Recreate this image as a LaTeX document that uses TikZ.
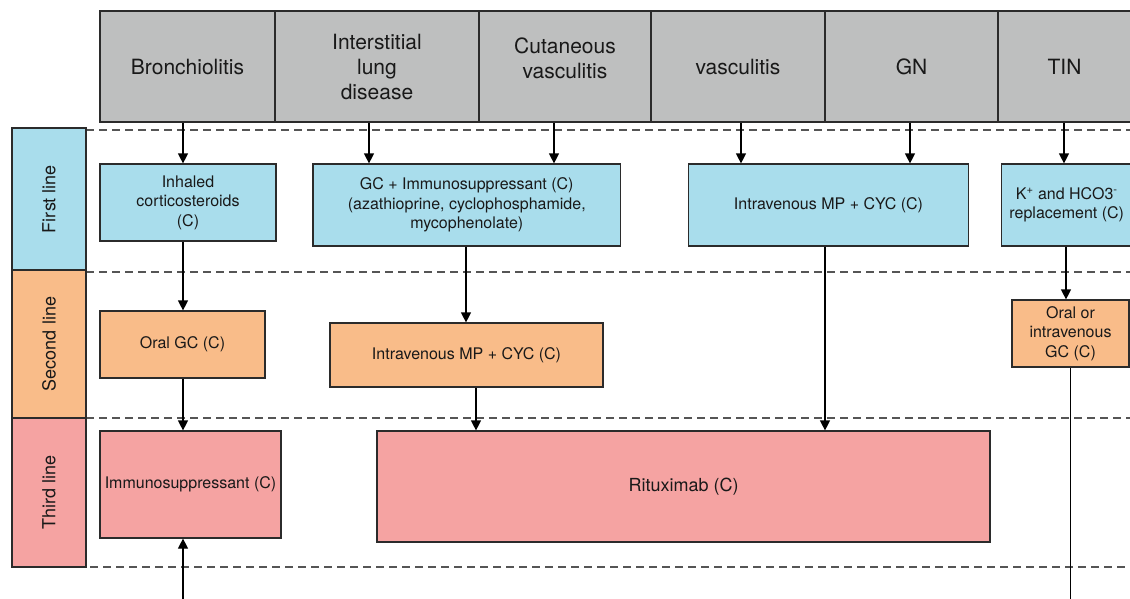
\documentclass[tikz,border=0pt]{standalone}
\usepackage{fontspec}
\setmainfont{TeX Gyre Heros}
\usetikzlibrary{arrows.meta}

\definecolor{hdrgray}{HTML}{BEBFBF}
\definecolor{firstblue}{HTML}{A9DDEC}
\definecolor{secondorange}{HTML}{F9BC89}
\definecolor{thirdpink}{HTML}{F5A3A2}
\definecolor{edge}{HTML}{2B2B2B}
\definecolor{dashgray}{HTML}{555555}

\tikzset{
  cell/.style={draw=edge, line width=1.2pt, rectangle, inner sep=2pt, align=center, text=black!90},
  hdr/.style={cell, fill=hdrgray, font=\fontsize{21}{25}\selectfont},
  tier/.style={cell, font=\fontsize{18}{21}\selectfont},
  tiertext/.style={rotate=90, inner sep=0pt, text=black!90, font=\fontsize{18}{21}\selectfont},
  hdrtext/.style={inner sep=0pt, align=center, text=black!90, font=\fontsize{21}{25}\selectfont},
  treat/.style={cell, font=\fontsize{16}{19.5}\selectfont},
  arr/.style={line width=1.2pt, draw=black, -{Triangle[length=10pt,width=10pt]}},
  plainline/.style={line width=1.2pt, draw=black},
  sep/.style={line width=1.4pt, draw=dashgray, dash pattern=on 8pt off 5pt}
}

\begin{document}
\begin{tikzpicture}[x=1pt, y=-1pt]
\useasboundingbox (0,0) rectangle (1130,598);

% tier separators
\draw[sep] (86,130) -- (1130,130);
\draw[sep] (86,272) -- (1130,272);
\draw[sep] (86,418) -- (1130,418);
\draw[sep] (12,567) -- (1130,567);

% header row of conditions
\node[hdr, minimum width=175pt, minimum height=111pt] (hb) at (187.5,66.5) {Bronchiolitis};
\node[hdr, minimum width=204pt, minimum height=111pt] (hild) at (377,66.5) {Interstitial\\lung\\disease};
\node[hdr, minimum width=172pt, minimum height=111pt] (hcut) at (565,66.5) {};
\node[hdrtext] (hcuttext) at (565,58.5) {Cutaneous\\vasculitis};
\node[hdr, minimum width=174pt, minimum height=111pt] (hvas) at (738,66.5) {vasculitis};
\node[hdr, minimum width=173pt, minimum height=111pt] (hgn) at (911.5,66.5) {GN};
\node[hdr, minimum width=133pt, minimum height=111pt] (htin) at (1064.5,66.5) {TIN};

% tier labels
\node[tier, fill=firstblue, minimum width=74pt, minimum height=142pt] (lfirst) at (49,199) {};
\node[tiertext] (lfirsttext) at (lfirst.center) {First line};
\node[tier, fill=secondorange, minimum width=74pt, minimum height=148pt] (lsecond) at (49,344) {};
\node[tiertext] (lsecondtext) at (lsecond.center) {Second line};
\node[tier, fill=thirdpink, minimum width=74pt, minimum height=149pt] (lthird) at (49,492.5) {};
\node[tiertext] (lthirdtext) at (lthird.center) {Third line};

% first line treatments
\node[treat, fill=firstblue, minimum width=176pt, minimum height=77pt] (ics) at (188,202.5) {Inhaled\\corticosteroids\\(C)};
\node[treat, fill=firstblue, minimum width=307.5pt, minimum height=82pt] (gci) at (466.75,205) {GC + Immunosuppressant (C)\\(azathioprine, cyclophosphamide,\\mycophenolate)};
\node[treat, fill=firstblue, minimum width=280pt, minimum height=82pt] (ivb) at (828.5,205) {Intravenous MP + CYC (C)};
\node[treat, fill=firstblue, minimum width=130.5pt, minimum height=82pt] (kb) at (1066.75,205) {K\textsuperscript{+} and HCO3\textsuperscript{-}\\replacement (C)};

% second line treatments
\node[treat, fill=secondorange, minimum width=165pt, minimum height=67pt] (ogc) at (182.5,344.5) {Oral GC (C)};
\node[treat, fill=secondorange, minimum width=273pt, minimum height=64pt] (ivo) at (466.5,355) {Intravenous MP + CYC (C)};
\node[treat, fill=secondorange, minimum width=117pt, minimum height=67pt] (oivg) at (1070.5,333.5) {Oral or\\intravenous\\GC (C)};

% third line treatments
\node[treat, fill=thirdpink, minimum width=181pt, minimum height=107pt] (imm) at (190.5,484.5) {Immunosuppressant (C)};
\node[treat, fill=thirdpink, minimum width=613pt, minimum height=111pt, font=\fontsize{18}{21}\selectfont] (rit) at (683.5,486.5) {Rituximab (C)};

% condition -> first line
\draw[arr] ([xshift=-4.5pt]hb.south) coordinate (a1) -- (a1 |- ics.north);
\draw[arr] ([xshift=-8pt]hild.south) coordinate (a2) -- (a2 |- gci.north);
\draw[arr] ([xshift=-11pt]hcut.south) coordinate (a3) -- (a3 |- gci.north);
\draw[arr] ([xshift=3pt]hvas.south) coordinate (a4) -- (a4 |- ivb.north);
\draw[arr] ([xshift=-1.5pt]hgn.south) coordinate (a5) -- (a5 |- ivb.north);
\draw[arr] ([xshift=-0.5pt]htin.south) coordinate (a6) -- (a6 |- kb.north);

% first line -> second line
\draw[arr] ([xshift=-5pt]ics.south) coordinate (b1) -- (b1 |- ogc.north);
\draw[arr] ([xshift=-0.75pt]gci.south) coordinate (b2) -- (b2 |- ivo.north);
\draw[arr] ([xshift=-0.75pt]kb.south) coordinate (b3) -- (b3 |- oivg.north);

% escalation to third line
\draw[arr] ([xshift=0.5pt]ogc.south) coordinate (c1) -- (c1 |- imm.north);
\draw[arr] ([xshift=9.5pt]ivo.south) coordinate (c2) -- (c2 |- rit.north);
\draw[arr] ([xshift=-3.5pt]ivb.south) coordinate (c3) -- (c3 |- rit.north);

% open-ended connectors at the lower edge
\coordinate (tinend) at (1071,600);
\draw[plainline] (oivg.south) -- (oivg.south |- tinend);
\coordinate (botstart) at (183,600);
\draw[arr] (botstart) -- (botstart |- imm.south);
\end{tikzpicture}
\end{document}
